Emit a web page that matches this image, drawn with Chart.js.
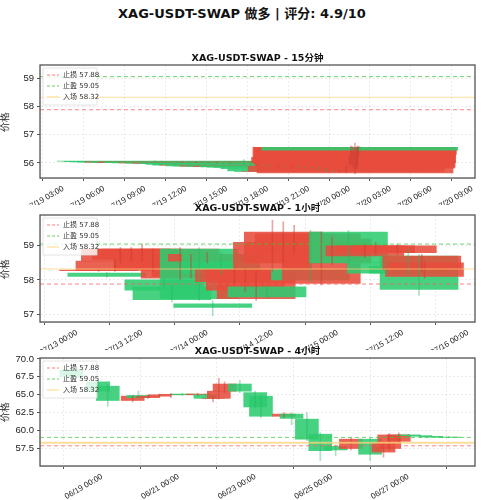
<!DOCTYPE html>
<html>
<head>
<meta charset="utf-8">
<script src="https://cdn.jsdelivr.net/npm/chart.js@4.4.1/dist/chart.umd.min.js"></script>
<style>
  body { margin: 0; width: 484px; height: 500px; background: #fff; font-family: "DejaVu Sans", "Noto Sans CJK SC", sans-serif; position: relative; overflow: hidden; }
  #main-title { position: absolute; top: 3px; left: 0; width: 484px; text-align: center; font-weight: bold; font-size: 13px; color: #111; }
  .panel { position: absolute; left: 0; width: 484px; }
</style>
</head>
<body>
<div id="main-title">XAG-USDT-SWAP 做多 | 评分: 4.9/10</div>
<div class="panel" style="top:52px;height:153px"><canvas id="c1"></canvas></div>
<div class="panel" style="top:203px;height:147px"><canvas id="c2"></canvas></div>
<div class="panel" style="top:346px;height:154px"><canvas id="c3"></canvas></div>
<script>
// ===== 데이터 =====
var stopLoss = 57.88, takeProfit = 59.05, entryPrice = 58.32;

// 15분봉: [시간(07/19 00:00 기준 h), open, high, low, close]
var candles15m = [
  [9.75, 56.07, 56.08, 56.05, 56.06], [10.25, 56.06, 56.07, 56.04, 56.05], [10.75, 56.05, 56.06, 56.03, 56.04],
  [11.25, 56.04, 56.05, 56.02, 56.03], [11.75, 56.03, 56.05, 56.02, 56.04], [12.25, 56.04, 56.05, 56.01, 56.02],
  [12.75, 56.02, 56.04, 56.01, 56.03], [13.25, 56.03, 56.04, 56.00, 56.01], [13.75, 56.01, 56.02, 55.99, 56.00],
  [14.25, 56.00, 56.02, 55.99, 56.01], [14.75, 56.01, 56.02, 55.98, 55.99], [15.25, 55.99, 56.01, 55.98, 56.00],
  [15.75, 56.00, 56.01, 55.97, 55.98], [16.25, 55.98, 56.12, 55.94, 55.95], [16.75, 55.95, 55.96, 55.91, 55.92],
  [17.25, 55.92, 55.94, 55.91, 55.93], [17.75, 55.93, 55.94, 55.89, 55.90], [18.25, 55.90, 55.91, 55.88, 55.89],
  [18.75, 55.89, 55.91, 55.88, 55.90], [19.25, 55.90, 55.91, 55.87, 55.88], [19.75, 55.88, 55.90, 55.86, 55.88],
  [20.25, 55.88, 55.89, 55.85, 55.86], [20.75, 55.86, 55.87, 55.84, 55.85], [21.25, 55.85, 55.86, 55.82, 55.84],
  [21.75, 55.84, 55.85, 55.78, 55.80], [22.25, 55.80, 55.81, 55.70, 55.72], [22.75, 55.72, 55.74, 55.68, 55.70],
  [23.25, 55.70, 55.75, 55.68, 55.70], [23.75, 55.70, 55.90, 55.65, 55.88], [24.0, 56.00, 56.25, 55.95, 56.20],
  [24.1, 56.00, 56.60, 55.95, 56.55], [24.2, 55.95, 56.58, 55.90, 56.55], [24.3, 55.90, 56.55, 55.85, 56.50],
  [24.4, 55.65, 56.70, 55.62, 56.55], [24.5, 55.82, 56.55, 55.80, 56.52], [24.55, 55.85, 56.55, 55.82, 56.55],
  [24.6, 56.00, 56.60, 55.95, 56.55], [24.65, 56.30, 56.58, 56.25, 56.55], [24.75, 56.55, 56.58, 56.42, 56.45]
];
// 1시간봉: [시간(07/13 00:00 기준 h), open, high, low, close]
var candles1h = [
  [4, 58.27, 58.31, 58.25, 58.29], [5.5, 58.20, 58.22, 58.08, 58.10], [7, 58.28, 58.58, 58.25, 58.55],
  [8, 58.55, 58.95, 58.50, 58.90], [10, 58.60, 58.95, 58.55, 58.90], [12, 58.60, 59.05, 58.55, 58.90],
  [14, 58.30, 58.90, 58.25, 58.85], [16, 58.00, 58.05, 57.75, 57.70], [17.5, 57.80, 57.85, 57.35, 57.42],
  [19, 58.05, 58.95, 58.00, 58.90], [21, 58.10, 58.75, 58.05, 58.70], [22.5, 58.90, 58.95, 57.40, 57.45],
  [24, 58.55, 58.80, 58.50, 58.75], [25, 57.30, 57.40, 56.95, 57.20], [26.5, 58.75, 58.80, 58.15, 58.20],
  [29, 57.95, 58.35, 57.90, 58.30], [31, 57.70, 58.35, 57.65, 58.30], [33, 57.45, 58.25, 57.40, 58.20],
  [35, 57.80, 57.85, 57.45, 57.50], [36, 58.30, 59.75, 58.25, 59.10], [38, 58.50, 59.70, 58.45, 59.40],
  [40, 58.80, 59.60, 58.75, 59.35], [43, 58.30, 59.45, 57.95, 58.00], [45, 57.90, 59.40, 57.85, 59.35],
  [47, 58.50, 59.25, 58.45, 59.20], [50, 59.40, 59.45, 58.45, 58.50], [53, 58.70, 59.05, 58.65, 59.00],
  [55, 58.80, 59.10, 58.75, 59.00], [57, 58.50, 58.55, 58.15, 58.20], [59, 58.80, 59.05, 58.75, 59.00],
  [61, 58.40, 58.92, 58.15, 58.20], [63, 58.70, 58.75, 57.55, 57.72], [63.5, 58.30, 58.75, 58.25, 58.70],
  [64, 58.10, 58.55, 58.05, 58.50]
];
// 4시간봉: [시간(06/19 00:00 기준 day), open, high, low, close]
var candles4h = [
  [-0.8, 68.5, 68.8, 67.3, 67.5], [-0.1, 66.8, 67.0, 65.3, 65.5], [0.15, 66.2, 66.4, 63.4, 64.2],
  [0.8, 64.2, 64.9, 64.0, 64.8], [0.95, 64.9, 65.5, 64.5, 64.6], [1.2, 64.6, 64.9, 64.5, 64.8],
  [1.5, 64.8, 65.1, 64.7, 65.0], [1.8, 65.0, 65.2, 64.6, 65.05], [2.1, 65.1, 65.2, 64.9, 65.0],
  [2.5, 65.0, 65.2, 64.9, 65.1], [2.7, 65.0, 65.1, 64.4, 64.5], [2.9, 64.5, 64.7, 64.0, 64.5],
  [3.05, 64.5, 67.3, 64.4, 65.5], [3.2, 65.5, 66.8, 65.3, 66.5], [3.6, 66.5, 67.0, 65.3, 65.5],
  [4.0, 65.3, 65.5, 63.1, 63.3], [4.15, 64.8, 65.0, 61.8, 62.0], [4.75, 62.0, 62.5, 61.8, 62.3],
  [4.95, 62.3, 62.5, 60.8, 61.7], [5.35, 61.6, 62.5, 58.6, 58.8], [5.7, 59.5, 59.7, 55.8, 57.2],
  [6.1, 57.8, 58.0, 56.5, 57.3], [6.5, 57.5, 59.0, 57.3, 58.8], [7.0, 58.8, 59.0, 55.8, 56.7],
  [7.35, 57.0, 58.4, 56.3, 58.2], [7.5, 57.5, 59.6, 57.3, 59.4], [7.75, 58.5, 59.7, 58.3, 59.4],
  [8.0, 59.4, 59.5, 59.1, 59.3], [8.3, 59.3, 59.4, 59.1, 59.2], [8.6, 59.2, 59.3, 59.0, 59.1],
  [9.05, 59.1, 59.2, 59.0, 59.05]
];

// 눈금
var ticks15mX = [3, 6, 9, 12, 15, 18, 21, 24, 27, 30, 33];
var ticks1hX = [0, 12, 24, 36, 48, 60, 72];
var ticks4hX = [0, 2, 4, 6, 8];
var ticks15mY = [56, 57, 58, 59];
var ticks1hY = [57, 58, 59];
var ticks4hY = [57.5, 60, 62.5, 65, 67.5, 70];

var RED = 'rgba(231,76,60,0.88)';
var GREEN = 'rgba(46,204,113,0.88)';
var WICK_RED = 'rgba(200,60,50,0.45)';
var WICK_GREEN = 'rgba(40,180,100,0.4)';

// ===== 유틸 =====
function pad(n) { return (n < 10 ? '0' : '') + n; }
function labelFromHours(baseMonth, baseDay, h) {
  var d = baseDay + Math.floor(h / 24);
  var hh = Math.round(h - Math.floor(h / 24) * 24);
  return pad(baseMonth) + '/' + pad(d) + ' ' + pad(hh) + ':00';
}

var titlePlugin = {
  id: 'panelTitle',
  afterDraw: function (chart) {
    var o = chart.options.plugins.panelTitle;
    var ctx = chart.ctx, a = chart.chartArea;
    ctx.save();
    ctx.font = 'bold 9.5px "DejaVu Sans", "Noto Sans CJK SC"';
    ctx.fillStyle = '#111';
    ctx.textAlign = 'center';
    ctx.textBaseline = 'bottom';
    ctx.fillText(o.text, (a.left + a.right) / 2, a.top - 2);
    // 범례
    var items = [
      { t: '止损 57.88', c: 'rgba(255,90,90,0.8)', dash: [3, 2] },
      { t: '止盈 59.05', c: 'rgba(60,200,60,0.8)', dash: [3, 2] },
      { t: '入场 58.32', c: 'rgba(255,205,100,0.8)', dash: [] }
    ];
    var x0 = a.left + 3, y0 = a.top + 3;
    ctx.fillStyle = 'rgba(255,255,255,0.8)';
    ctx.strokeStyle = '#ddd';
    ctx.lineWidth = 0.8;
    ctx.beginPath();
    ctx.rect(x0, y0, 54, 37);
    ctx.fill(); ctx.stroke();
    ctx.font = '7px "DejaVu Sans", "Noto Sans CJK SC"';
    ctx.textAlign = 'left';
    ctx.textBaseline = 'middle';
    items.forEach(function (it, i) {
      var y = y0 + 7 + i * 11;
      ctx.strokeStyle = it.c;
      ctx.lineWidth = 1;
      ctx.setLineDash(it.dash);
      ctx.beginPath(); ctx.moveTo(x0 + 4, y); ctx.lineTo(x0 + 16, y); ctx.stroke();
      ctx.setLineDash([]);
      ctx.fillStyle = '#333';
      ctx.fillText(it.t, x0 + 20, y);
    });
    // 테두리
    ctx.strokeStyle = '#555';
    ctx.lineWidth = 1.3;
    ctx.strokeRect(a.left, a.top, a.right - a.left, a.bottom - a.top);
    ctx.restore();
  }
};

function buildChart(id, cfg) {
  var bodies = cfg.candles.map(function (c) { return { x: c[0], y: [c[1], c[4]] }; });
  var wicks = cfg.candles.map(function (c) { return { x: c[0], y: [c[3], c[2]] }; });
  var colors = cfg.candles.map(function (c) { return c[4] >= c[1] ? RED : GREEN; });
  var wickColors = cfg.candles.map(function (c) { return c[4] >= c[1] ? WICK_RED : WICK_GREEN; });
  function hline(v, color, dash, w) {
    return {
      type: 'line', data: [{ x: cfg.xMin, y: v }, { x: cfg.xMax, y: v }],
      borderColor: color, borderDash: dash, borderWidth: w, pointRadius: 0, order: 0
    };
  }
  return new Chart(document.getElementById(id), {
    data: {
      datasets: [
        { type: 'bar', data: bodies, backgroundColor: colors, barThickness: cfg.bodyWidth, grouped: false, order: 3 },
        { type: 'bar', data: wicks, backgroundColor: wickColors, barThickness: 1, grouped: false, order: 2 },
        hline(stopLoss, 'rgba(255,90,90,0.75)', [4, 3], 1),
        hline(takeProfit, 'rgba(60,200,60,0.75)', [4, 3], 1),
        hline(entryPrice, 'rgba(255,210,120,0.75)', [], cfg.entryWidth)
      ]
    },
    options: {
      responsive: true,
      maintainAspectRatio: false,
      animation: false,
      layout: { padding: { top: cfg.padTop, right: 9, left: 0, bottom: 0 } },
      plugins: { legend: { display: false }, tooltip: { enabled: false }, panelTitle: { text: cfg.title } },
      scales: {
        x: {
          type: 'linear', min: cfg.xMin, max: cfg.xMax, offset: false,
          afterBuildTicks: function (s) { s.ticks = cfg.xTicks.map(function (v) { return { value: v }; }); },
          afterFit: function (s) { s.height = cfg.xAxisHeight; },
          ticks: {
            maxRotation: 30, minRotation: 30, autoSkip: false, font: { size: 8 }, color: '#222',
            callback: cfg.xLabel
          },
          grid: { color: 'rgba(0,0,0,0.08)', tickColor: '#555', tickLength: 3 },
          border: { dash: [2, 2] }
        },
        y: {
          min: cfg.yMin, max: cfg.yMax,
          afterBuildTicks: function (s) { s.ticks = cfg.yTicks.map(function (v) { return { value: v }; }); },
          afterFit: function (s) { s.width = 40; },
          ticks: { font: { size: 9.5 }, color: '#222', callback: cfg.yLabel },
          title: { display: true, text: '价格', font: { size: 9.5 }, color: '#222', padding: 0 },
          grid: { color: 'rgba(0,0,0,0.08)', tickColor: '#555', tickLength: 3 },
          border: { dash: [2, 2] }
        }
      }
    },
    plugins: [titlePlugin]
  });
}

buildChart('c1', {
  title: 'XAG-USDT-SWAP - 15分钟', candles: candles15m, bodyWidth: 196, entryWidth: 1,
  xMin: 1.3, xMax: 33.2, yMin: 55.47, yMax: 59.46, xTicks: ticks15mX, yTicks: ticks15mY,
  padTop: 13, xAxisHeight: 27,
  xLabel: function (v) { return labelFromHours(7, 19, v); },
  yLabel: function (v) { return v.toFixed(0); }
});
buildChart('c2', {
  title: 'XAG-USDT-SWAP - 1小时', candles: candles1h, bodyWidth: 78, entryWidth: 1,
  xMin: -6.8, xMax: 73.3, yMin: 56.77, yMax: 59.9, xTicks: ticks1hX, yTicks: ticks1hY,
  padTop: 12, xAxisHeight: 28,
  xLabel: function (v) { return labelFromHours(7, 13, v); },
  yLabel: function (v) { return v.toFixed(0); }
});
buildChart('c3', {
  title: 'XAG-USDT-SWAP - 4小时', candles: candles4h, bodyWidth: 23, entryWidth: 2,
  xMin: -1.62, xMax: 9.74, yMin: 55.06, yMax: 70.13, xTicks: ticks4hX, yTicks: ticks4hY,
  padTop: 12, xAxisHeight: 34,
  xLabel: function (v) { return labelFromHours(6, 19, v * 24); },
  yLabel: function (v) { return v.toFixed(1); }
});
</script>
</body>
</html>
